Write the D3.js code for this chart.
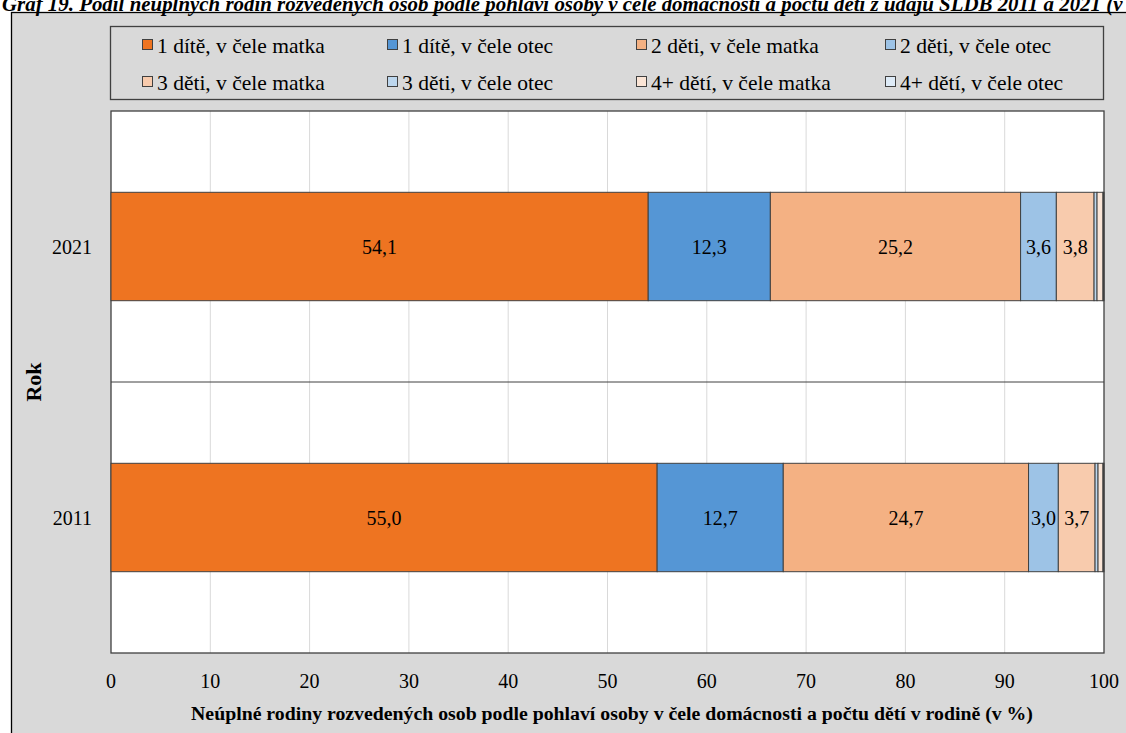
<!DOCTYPE html>
<html>
<head>
  <meta charset="UTF-8">
  <style>
body { margin: 0; background: #fff; }
  </style>
</head>
<body>
<svg id="chart"></svg>
<script src="https://d3js.org/d3.v7.min.js"></script>
<script>

let width = 1126, height = 733;
let serif = "'Liberation Serif', 'DejaVu Serif', serif";

// data
let years = ["2021", "2011"];
let seriesNames = ["1 dítě, v čele matka", "1 dítě, v čele otec", "2 děti, v čele matka", "2 děti, v čele otec",
                   "3 děti, v čele matka", "3 děti, v čele otec", "4+ dětí, v čele matka", "4+ dětí, v čele otec"];
let seriesColors = ["#ee7421", "#5596d5", "#f4b183", "#9dc3e6", "#f8cbad", "#bdd7ee", "#fbe5d6", "#deebf7"];
let v2021 = [54.1, 12.3, 25.2, 3.6, 3.8, 0.3, 0.6, 0.1];
let v2011 = [55.0, 12.7, 24.7, 3.0, 3.7, 0.3, 0.5, 0.1];
let xTicks = [0, 10, 20, 30, 40, 50, 60, 70, 80, 90, 100];

let title = "Graf 19. Podíl neúplných rodin rozvedených osob podle pohlaví osoby v čele domácnosti a počtu dětí z údajů SLDB 2011 a 2021 (v %)";
let xTitle = "Neúplné rodiny rozvedených  osob podle pohlaví osoby v čele domácnosti a počtu dětí v rodině (v %)";
let yTitle = "Rok";

// build table for the stack
let rows = years.map((y, i) => {
  let r = {year: y};
  let vals = i == 0 ? v2021 : v2011;
  seriesNames.forEach((s, j) => r[s] = vals[j]);
  return r;
});

let svg = d3.select("#chart").attr("width", width).attr("height", height)
  .style("display", "block").attr("font-family", serif);

// outer chart frame
svg.append("rect")
  .attr("x", 11.5).attr("y", 12.5)
  .attr("width", 1130).attr("height", 740)
  .attr("fill", "#d9d9d9").attr("stroke", "#000").attr("stroke-width", 1.3);

// title, clipped at the top like the original
svg.append("text")
  .attr("x", 2).attr("y", 11)
  .attr("font-size", 22).attr("font-weight", "bold").attr("font-style", "italic")
  .attr("textLength", 1150).attr("lengthAdjust", "spacingAndGlyphs")
  .text(title);

let plot = {left: 111, right: 1104, top: 111, bottom: 653};

let x = d3.scaleLinear().domain([0, 100]).range([plot.left, plot.right]);
let y = d3.scaleBand().domain(years).range([plot.top, plot.bottom]).paddingInner(0.6).paddingOuter(0.3);

// plot area
svg.append("rect")
  .attr("x", plot.left).attr("y", plot.top)
  .attr("width", plot.right - plot.left).attr("height", plot.bottom - plot.top)
  .attr("fill", "#fff");

svg.append("g")
  .selectAll("line")
  .data(xTicks.slice(1, -1))
  .join("line")
  .attr("x1", d => x(d)).attr("x2", d => x(d))
  .attr("y1", plot.top).attr("y2", plot.bottom)
  .attr("stroke", "#d9d9d9").attr("stroke-width", 1);

// category separator
svg.append("line")
  .attr("x1", plot.left).attr("x2", plot.right)
  .attr("y1", (plot.top + plot.bottom) / 2).attr("y2", (plot.top + plot.bottom) / 2)
  .attr("stroke", "#404040").attr("stroke-width", 1);

svg.append("rect")
  .attr("x", plot.left).attr("y", plot.top)
  .attr("width", plot.right - plot.left).attr("height", plot.bottom - plot.top)
  .attr("fill", "none").attr("stroke", "#404040").attr("stroke-width", 1.3);

// stacked bars
let stack = d3.stack().keys(seriesNames)(rows);
let color = d3.scaleOrdinal().domain(seriesNames).range(seriesColors);

let layers = svg.append("g")
  .selectAll("g")
  .data(stack)
  .join("g")
  .attr("fill", d => color(d.key));

layers.selectAll("rect")
  .data(d => d)
  .join("rect")
  .attr("x", d => x(d[0]))
  .attr("y", d => y(d.data.year))
  .attr("width", d => x(d[1]) - x(d[0]))
  .attr("height", y.bandwidth())
  .attr("stroke", "#404040").attr("stroke-width", 1);

// value labels
layers.selectAll("text")
  .data(d => d.filter(p => p[1] - p[0] >= 1))
  .join("text")
  .attr("x", d => (x(d[0]) + x(d[1])) / 2)
  .attr("y", d => y(d.data.year) + y.bandwidth() / 2)
  .attr("text-anchor", "middle").attr("dominant-baseline", "central")
  .attr("font-size", 20).attr("fill", "#000")
  .text(d => d3.format(".1f")(d[1] - d[0]).replace(".", ","));

// x tick labels
svg.append("g")
  .selectAll("text")
  .data(xTicks)
  .join("text")
  .attr("x", d => x(d)).attr("y", 681)
  .attr("text-anchor", "middle").attr("dominant-baseline", "central")
  .attr("font-size", 20)
  .text(d => d);

// y tick labels
svg.append("g")
  .selectAll("text")
  .data(years)
  .join("text")
  .attr("x", 92).attr("y", d => y(d) + y.bandwidth() / 2)
  .attr("text-anchor", "end").attr("dominant-baseline", "central")
  .attr("font-size", 20)
  .text(d => d);

// axis titles
svg.append("text")
  .attr("x", 612).attr("y", 713)
  .attr("text-anchor", "middle").attr("dominant-baseline", "central")
  .attr("font-size", 19.8).attr("font-weight", "bold")
  .text(xTitle);

svg.append("text")
  .attr("transform", "translate(33," + ((plot.top + plot.bottom) / 2) + ") rotate(-90)")
  .attr("text-anchor", "middle").attr("dominant-baseline", "central")
  .attr("font-size", 22).attr("font-weight", "bold")
  .text(yTitle);

// legend
let legend = svg.append("g");
legend.append("rect")
  .attr("x", 110.5).attr("y", 26.5)
  .attr("width", 993).attr("height", 73)
  .attr("fill", "#d9d9d9").attr("stroke", "#404040").attr("stroke-width", 1.3);

let colX = [142, 387, 636, 885], rowY = [45, 82];

let items = legend.selectAll("g.item")
  .data(seriesNames)
  .join("g")
  .attr("class", "item")
  .attr("transform", (d, i) => "translate(" + colX[i % 4] + "," + rowY[Math.floor(i / 4)] + ")");

items.append("rect")
  .attr("x", 0.5).attr("y", -5.5)
  .attr("width", 10).attr("height", 10)
  .attr("fill", d => color(d)).attr("stroke", "#404040").attr("stroke-width", 1);

items.append("text")
  .attr("x", 15).attr("y", 1)
  .attr("dominant-baseline", "central")
  .attr("font-size", 21.5)
  .text(d => d);

</script>
</body>
</html>
